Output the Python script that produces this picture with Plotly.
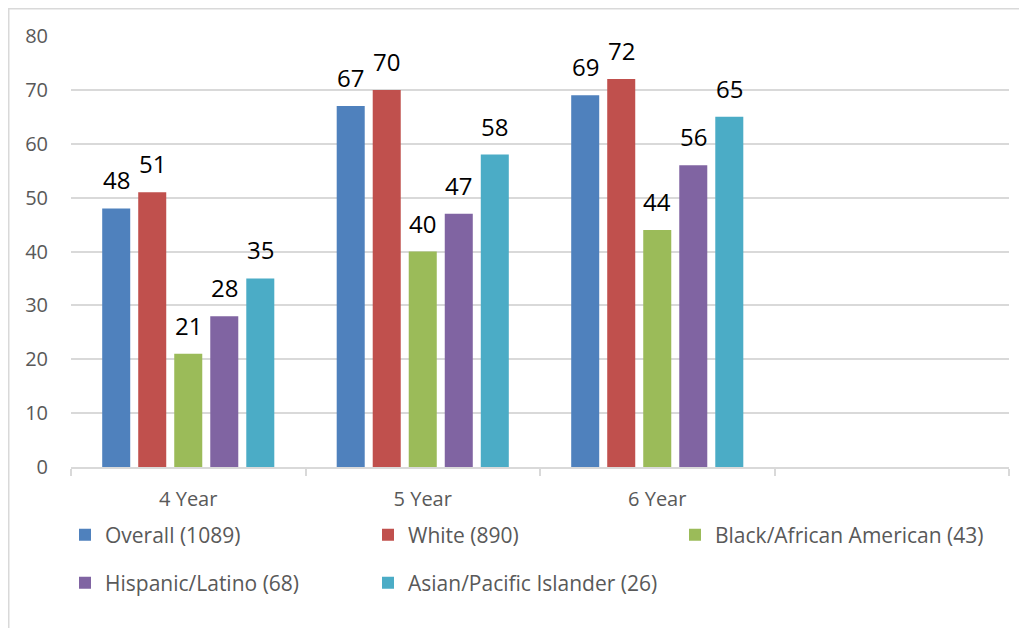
import plotly.graph_objects as go

categories = ["4 Year", "5 Year", "6 Year"]
series_names = ["Overall (1089)", "White (890)", "Black/African American (43)",
                "Hispanic/Latino (68)", "Asian/Pacific Islander (26)"]
overall = [48, 67, 69]
white = [51, 70, 72]
black = [21, 40, 44]
hispanic = [28, 47, 56]
asian = [35, 58, 65]
y_ticks = [0, 10, 20, 30, 40, 50, 60, 70, 80]

colors = ["#4F81BD", "#C0504D", "#9BBB59", "#8064A2", "#4BACC6"]
values = [overall, white, black, hispanic, asian]
legends = ["legend", "legend", "legend2", "legend3", "legend3"]

# page is rendered with an 8px body margin -> compensate
OFF = 8
W, H = 1027, 628
ml, mr, mt, mb = 71 - OFF, 18 + OFF, 36 - OFF, 161 + OFF
pw, ph = W - ml - mr, H - mt - mb

FONT = "Open Sans"
GRAY = "#595959"
BARGAP = 0.232
GROUPGAP = 0.222

fig = go.Figure()
xpos = list(range(len(categories)))
n = len(values)
slot = (1 - BARGAP) / n
annotations = []
for i, (name, vals, col, lg) in enumerate(zip(series_names, values, colors, legends)):
    fig.add_trace(go.Bar(
        x=xpos, y=vals, name=name, legend=lg,
        marker=dict(color=col, line=dict(width=0)),
        hoverinfo="name+y",
    ))
    for j, v in zip(xpos, vals):
        annotations.append(dict(
            x=j + (i - (n - 1) / 2) * slot, y=v, xref="x", yref="y",
            text=str(v), showarrow=False, yanchor="bottom", xanchor="center",
            yshift=10, font=dict(family=FONT, size=24, color="#000000"),
        ))

def fx(p):
    # figure pixel -> paper x
    return (p - ml) / pw

def fy(p):
    # figure pixel -> paper y
    return (H - mb - p) / ph

def legend_at(xpix, ypix):
    return dict(
        orientation="h", x=fx(xpix - OFF), y=fy(ypix - OFF),
        xanchor="left", yanchor="middle",
        entrywidth=258, entrywidthmode="pixels",
        font=dict(family=FONT, size=21, color=GRAY), bgcolor="rgba(0,0,0,0)",
    )

fig.update_layout(
    width=W, height=H,
    margin=dict(l=ml, r=mr, t=mt, b=mb),
    paper_bgcolor="white", plot_bgcolor="white",
    barmode="group", bargap=BARGAP, bargroupgap=GROUPGAP,
    font=dict(family=FONT, size=20, color=GRAY),
    xaxis=dict(
        range=[-0.5, 3.5], tickvals=xpos, ticktext=categories,
        ticks="", showgrid=False, zeroline=False,
        showline=True, linecolor="#D9D9D9", linewidth=1.5,
        tickfont=dict(family=FONT, size=20, color=GRAY),
        ticklabelstandoff=13,
        minor=dict(tick0=-0.5, dtick=1, ticks="outside", ticklen=7,
                   tickcolor="#D9D9D9", tickwidth=1.5, showgrid=False),
    ),
    yaxis=dict(
        range=[0, 80], tickvals=y_ticks, showgrid=True,
        gridcolor="#D9D9D9", gridwidth=1.5, zeroline=False,
        showline=False, ticks="",
        tickfont=dict(family=FONT, size=20, color=GRAY),
        ticklabelstandoff=22,
    ),
    legend=legend_at(65, 535),
    legend2=legend_at(675, 535),
    legend3=legend_at(65, 583),
    showlegend=True,
    annotations=annotations,
    shapes=[dict(type="rect", xref="paper", yref="paper",
                 x0=fx(0.75), x1=fx(W + 20), y0=fy(H + 20), y1=fy(0.75),
                 line=dict(color="#D9D9D9", width=1.5), fillcolor="rgba(0,0,0,0)",
                 layer="below")],
)
fig.update_layout(legend2=dict(entrywidth=0))

fig.write_html("out.html")
